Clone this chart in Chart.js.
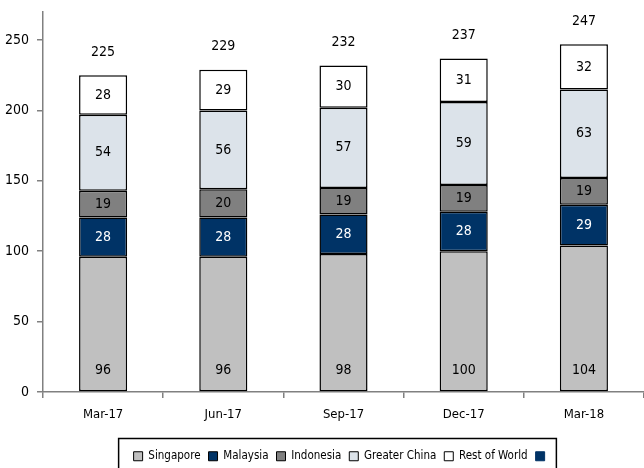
<!DOCTYPE html>
<html>
<head>
<meta charset="utf-8">
<script src="https://cdn.jsdelivr.net/npm/chart.js@4.4.1/dist/chart.umd.min.js"></script>
<style>
  html, body { margin: 0; padding: 0; background: #fff; overflow: hidden; }
  #wrap { width: 644px; height: 485px; }
</style>
</head>
<body>
<div id="wrap"><canvas id="c" width="644" height="485"></canvas></div>
<script>
const categories = ['Mar-17', 'Jun-17', 'Sep-17', 'Dec-17', 'Mar-18'];
const singapore = [96, 96, 98, 100, 104];
const malaysia = [28, 28, 28, 28, 29];
const indonesia = [19, 20, 19, 19, 19];
const greaterChina = [54, 56, 57, 59, 63];
const restOfWorld = [28, 29, 30, 31, 32];
const yTicks = [0, 50, 100, 150, 200, 250];

const FONT = '"Liberation Sans Narrow", "DejaVu Sans Condensed", "Liberation Sans", sans-serif';

const series = [
  { label: 'Singapore', data: singapore, color: '#c0c0c0', text: '#000' },
  { label: 'Malaysia', data: malaysia, color: '#003366', text: '#fff' },
  { label: 'Indonesia', data: indonesia, color: '#808080', text: '#000' },
  { label: 'Greater China', data: greaterChina, color: '#dce3ea', text: '#000' },
  { label: 'Rest of World', data: restOfWorld, color: '#ffffff', text: '#000' }
];
const totals = categories.map((_, i) => series.reduce((s, d) => s + d.data[i], 0));

// Value labels inside each segment, plus the stack total above each bar
const segmentLabels = {
  id: 'segmentLabels',
  afterDatasetsDraw(chart) {
    const ctx = chart.ctx;
    ctx.save();
    ctx.font = '14px ' + FONT;
    ctx.textAlign = 'center';
    ctx.textBaseline = 'middle';
    series.forEach((s, di) => {
      const meta = chart.getDatasetMeta(di);
      meta.data.forEach((bar, i) => {
        const p = bar.getProps(['x', 'y', 'base'], true);
        const y = di === 0 ? p.base - 21 : (p.y + p.base) / 2;
        ctx.fillStyle = s.text;
        ctx.fillText(String(s.data[i]), p.x, y);
      });
    });
    const yScale = chart.scales.y;
    const meta0 = chart.getDatasetMeta(0);
    totals.forEach((t, i) => {
      const x = meta0.data[i].x;
      ctx.fillStyle = '#000';
      ctx.fillText(String(t), x, yScale.getPixelForValue(t) - 23);
    });
    ctx.restore();
  }
};

// Nudge the legend right of centre (before its hit boxes are placed) and frame its items
const LEGEND_SHIFT = 20;
const legendFrame = {
  id: 'legendFrame',
  afterLayout(chart) {
    const lg = chart.legend;
    if (!lg) return;
    lg.left += LEGEND_SHIFT;
    lg.right += LEGEND_SHIFT;
  },
  afterDraw(chart) {
    const lg = chart.legend;
    if (!lg || !lg.legendHitBoxes || !lg.legendHitBoxes.length) return;
    const boxes = lg.legendHitBoxes;
    const left = Math.min(...boxes.map(b => b.left)) - 15;
    const right = Math.max(...boxes.map(b => b.left + b.width)) + 6;
    const top = Math.min(...boxes.map(b => b.top)) - 12;
    const bottom = Math.max(...boxes.map(b => b.top + b.height)) + 12;
    const ctx = chart.ctx;
    ctx.save();
    ctx.strokeStyle = '#000';
    ctx.lineWidth = 1.5;
    ctx.strokeRect(left, top, right - left, bottom - top);
    ctx.restore();
  }
};

new Chart(document.getElementById('c'), {
  type: 'bar',
  data: {
    labels: categories,
    datasets: series.map(s => ({
      label: s.label,
      data: s.data,
      backgroundColor: s.color,
      borderColor: '#000',
      borderWidth: 1.5,
      borderSkipped: false,
      barPercentage: 0.4,
      categoryPercentage: 1.0
    }))
  },
  options: {
    responsive: false,
    animation: false,
    devicePixelRatio: 1,
    layout: { padding: { top: 12, right: 0, left: 0, bottom: 13 } },
    scales: {
      x: {
        stacked: true,
        afterFit(scale) { scale.height += 11; },
        border: { color: '#808080', width: 1.5 },
        grid: { display: true, drawOnChartArea: false, color: '#808080', tickLength: 6, lineWidth: 1.5, offset: true },
        ticks: { color: '#000', font: { family: FONT, size: 13 }, padding: 9 }
      },
      y: {
        stacked: true,
        min: 0,
        max: 270,
        afterBuildTicks(scale) { scale.ticks = yTicks.map(v => ({ value: v })); },
        afterFit(scale) { scale.width = 43; scale.paddingTop = 0; },
        border: { color: '#808080', width: 1.5 },
        grid: { display: true, drawOnChartArea: false, color: '#808080', tickLength: 6, lineWidth: 1.5 },
        ticks: { color: '#000', font: { family: FONT, size: 14 }, padding: 8 }
      }
    },
    plugins: {
      tooltip: { enabled: false },
      legend: {
        position: 'bottom',
        labels: {
          color: '#000',
          font: { family: FONT, size: 11.5 },
          boxWidth: 9,
          boxHeight: 9,
          padding: 8,
          generateLabels(chart) {
            const items = Chart.defaults.plugins.legend.labels.generateLabels(chart);
            items.forEach(it => { it.strokeStyle = '#000'; it.lineWidth = 1; });
            items.push({ text: '', fillStyle: '#003366', strokeStyle: '#003366', lineWidth: 1, hidden: false, datasetIndex: -1 });
            return items;
          }
        }
      }
    }
  },
  plugins: [segmentLabels, legendFrame]
});
</script>
</body>
</html>
